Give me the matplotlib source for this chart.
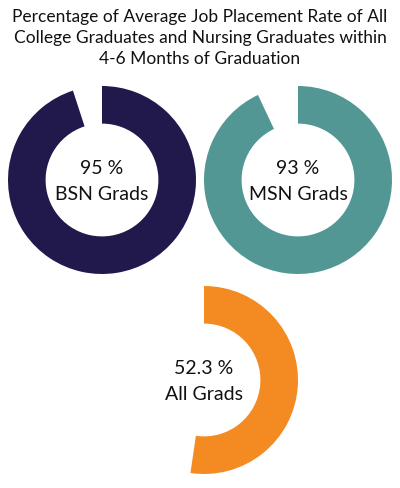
import matplotlib.pyplot as plt

plt.rcParams['font.family'] = ['Lato', 'DejaVu Sans']

title = "Percentage of Average Job Placement Rate of All\nCollege Graduates and Nursing Graduates within\n4-6 Months of Graduation"
labels = ["BSN Grads", "MSN Grads", "All Grads"]
values = [95, 93, 52.3]
value_text = ["95 %", "93 %", "52.3 %"]
colors = ["#21194b", "#529793", "#f38b22"]

# donut centres / radius in pixels (figure is 400 x 488)
W, H = 400, 488
centres = [(102, 180), (298, 180), (204, 380)]
R = 94

fig = plt.figure(figsize=(W / 100, H / 100), dpi=100)
fig.text(0.5, 1 - 38 / H, title, ha="center", va="center",
         fontsize=12.5, linespacing=1.42, color="#111111")

for (cx, cy), lab, val, vt, col in zip(centres, labels, values, value_text, colors):
    ax = fig.add_axes([(cx - R) / W, (H - cy - R) / H, 2 * R / W, 2 * R / H])
    ax.pie([val, 100 - val], colors=[col, "none"], startangle=90,
           counterclock=False, radius=1,
           wedgeprops=dict(width=0.4, edgecolor="none"))
    ax.set_xlim(-1, 1)
    ax.set_ylim(-1, 1)
    ax.set_aspect("equal")
    ax.axis("off")
    ax.text(0, 0.12, vt, ha="center", va="center", fontsize=14, color="#111111")
    ax.text(0, -0.15, lab, ha="center", va="center", fontsize=14, color="#111111")

fig.savefig("out.png", dpi=100)
